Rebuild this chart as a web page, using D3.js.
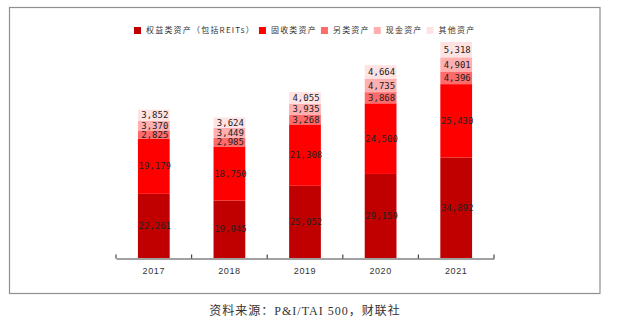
<!DOCTYPE html>
<html><head><meta charset="utf-8">
<script src="https://cdn.jsdelivr.net/npm/d3@7"></script>
<style>body{margin:0;background:#fff}svg{display:block}</style>
</head><body><svg id="c" width="622" height="324"></svg>
<script>
const years = ["2017","2018","2019","2020","2021"];
const seriesNames = ["权益类资产（包括REITs）","固收类资产","另类资产","现金资产","其他资产"];
const equity = [22261,19945,25052,29159,34892];
const fixedIncome = [19179,18750,21308,24500,25430];
const alternative = [2825,2985,3268,3868,4396];
const cash = [3370,3449,3935,4735,4901];
const other = [3852,3624,4055,4664,5318];
const colors = ["#C00000","#FF0000","#FF6A6A","#FFAFAF","#FFE3E3"];
const sourceText = "资料来源：P&I/TAI 500，财联社";

const svg = d3.select("#c");
const seriesVals = [equity, fixedIncome, alternative, cash, other];
const table = years.map((y,i)=>{const o={year:y}; seriesNames.forEach((s,j)=>o[s]=seriesVals[j][i]); return o;});
const stacked = d3.stack().keys(seriesNames)(table);

// frame
svg.append("rect").attr("x",9.5).attr("y",7.5).attr("width",590.5).attr("height",286)
  .attr("fill","none").attr("stroke","#8f8f8f").attr("stroke-width",1.2);

const x = d3.scaleBand().domain(years).range([116,494]).paddingInner(0.58).paddingOuter(0.29);
const y = d3.scaleLinear().domain([0,80000]).range([258, 258-80000*0.0028824]);

const g = svg.append("g");
stacked.forEach((layer,j)=>{
  g.selectAll(null).data(layer).enter().append("rect")
    .attr("x",d=>x(d.data.year)).attr("width",x.bandwidth())
    .attr("y",d=>y(d[1])).attr("height",d=>y(d[0])-y(d[1]))
    .attr("fill",colors[j]);
});
const fmt = d3.format(",");
stacked.forEach((layer,j)=>{
  g.selectAll(null).data(layer).enter().append("text")
    .attr("x",d=>x(d.data.year)+x.bandwidth()/2+1)
    .attr("y",d=>(y(d[0])+y(d[1]))/2)
    .attr("dy","0.35em").attr("text-anchor","middle")
    .attr("font-family","DejaVu Sans Mono, monospace").attr("font-size",9)
    .attr("fill","#222")
    .text(d=>fmt(d[1]-d[0]));
});

// axis
const axisY = 258.5;
const axis = d3.axisBottom(x).tickSize(0).tickPadding(9);
const ag = svg.append("g").attr("transform",`translate(0,${axisY})`).call(axis);
ag.select(".domain").attr("stroke","#444").attr("stroke-width",1.2);
ag.selectAll("text").attr("font-family","Liberation Sans, Arial, sans-serif").attr("font-size",9)
  .attr("letter-spacing",0.6).attr("fill","#333");
const step = x.step();
const x0 = x.range()[0];
ag.selectAll(".bt").data(d3.range(years.length+1)).enter().append("line")
  .attr("x1",i=>x0+i*step).attr("x2",i=>x0+i*step).attr("y1",0).attr("y2",-4)
  .attr("stroke","#444").attr("stroke-width",1.2);

// legend
const lg = svg.append("g");
let lx = 134;
seriesNames.forEach((s,j)=>{
  lg.append("rect").attr("x",lx).attr("y",27).attr("width",7).attr("height",7).attr("fill",colors[j]);
  const t = lg.append("text").attr("x",lx+12).attr("y",30.5).attr("dy","0.35em")
    .attr("font-family","Noto Sans CJK SC, sans-serif").attr("font-size",8)
    .attr("letter-spacing",1.2).attr("fill","#333").text(s);
  lx = lx + 12 + t.node().getComputedTextLength() + 4;
});

// source
svg.append("text").attr("x",305).attr("y",311).attr("dy","0.35em").attr("text-anchor","middle")
  .attr("font-family","Liberation Serif, Noto Sans CJK SC, serif").attr("font-size",12)
  .attr("letter-spacing",1).attr("fill","#333").text(sourceText);
</script></body></html>
